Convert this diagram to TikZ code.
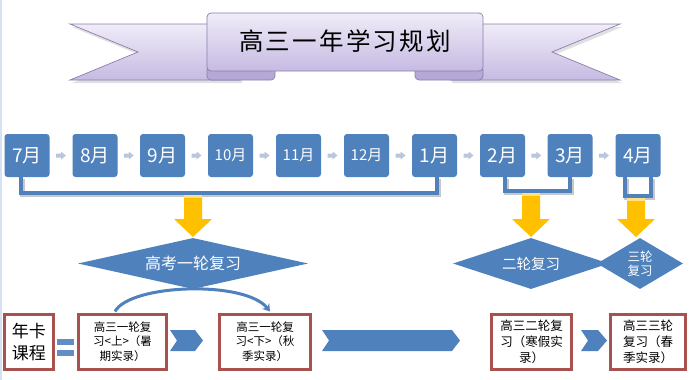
\documentclass[tikz,border=0pt]{standalone}
\usepackage{fontspec}
\setmainfont{Noto Sans CJK SC}
\newfontfamily\titlefont[LetterSpace=9]{Noto Sans CJK SC}
\usetikzlibrary{arrows.meta,shapes.geometric,calc}
\definecolor{mblue}{RGB}{79,129,189}
\definecolor{garr}{RGB}{184,198,222}
\definecolor{gold}{RGB}{255,192,0}
\definecolor{goldlt}{RGB}{255,224,130}
\definecolor{redb}{RGB}{168,82,80}
\definecolor{lavtop}{RGB}{240,236,248}
\definecolor{lavbot}{RGB}{198,186,226}
\definecolor{lavdark}{RGB}{182,168,214}
\definecolor{lavline}{RGB}{140,125,172}
\definecolor{edgeb}{RGB}{214,226,240}
\newcommand\GoldArrow[2]{%
  \fill[gold] (#1-9,#2) -- (#1+9,#2) -- (#1+9,219) -- (#1+19,219) -- (#1,237) -- (#1-19,219) -- (#1-9,219) -- cycle;
  \fill[goldlt] (#1-9,#2) rectangle (#1+9,#2+3);}
\begin{document}
\begin{tikzpicture}[x=1pt,y=-1pt,
  month/.style={fill=mblue, rounded corners=3pt, minimum width=45pt, minimum height=43pt, text=white, inner sep=0pt},
  bigm/.style={font=\fontsize{19}{21}\selectfont},
  smallm/.style={font=\fontsize{15}{17}\selectfont},
  bracketline/.style={draw=mblue, line width=4.5pt},
  diam/.style={diamond, fill=mblue, draw=none, inner sep=0pt, text=white, align=center},
  course/.style={draw=redb, line width=3pt, fill=white, align=center, inner sep=0pt, minimum height=55pt},
  chev/.style={fill=mblue},
  ]
\useasboundingbox (0,0) rectangle (694,380);
\fill[white] (0,0) rectangle (694,380);
\fill[edgeb] (0,0) rectangle (1.5,380);

% title ribbon
\fill[black!12] (72,27) -- (242,27) -- (242,83) -- (72,83) -- (140,55) -- cycle;
\fill[black!12] (622,27) -- (452,27) -- (452,83) -- (622,83) -- (554,55) -- cycle;
\shadedraw[top color=lavtop, bottom color=lavbot, draw=lavline, line width=0.7pt] (70,24) -- (240,24) -- (240,80) -- (70,80) -- (138,52) -- cycle;
\shadedraw[top color=lavtop, bottom color=lavbot, draw=lavline, line width=0.7pt] (620,24) -- (450,24) -- (450,80) -- (620,80) -- (552,52) -- cycle;
\filldraw[fill=lavdark, draw=lavline, line width=0.7pt, rounded corners=4pt] (207,66) rectangle (275,80);
\filldraw[fill=lavdark, draw=lavline, line width=0.7pt, rounded corners=4pt] (415,66) rectangle (483,80);
\shadedraw[top color=lavtop, bottom color=lavbot, draw=lavline, line width=0.7pt, rounded corners=4pt] (207,13) rectangle (483,71);
\node (title) at (345,41.5) {\titlefont\fontsize{24.5}{28}\selectfont 高三一年学习规划};

% months
\node[month,bigm]   (m7)  at (27,155.5)  {7月};
\node[month,bigm]   (m8)  at (95,155.5)  {8月};
\node[month,bigm]   (m9)  at (162.5,155.5) {9月};
\node[month,smallm] (m10) at (230.5,155.5) {10月};
\node[month,smallm] (m11) at (298.5,155.5) {11月};
\node[month,smallm] (m12) at (366.5,155.5) {12月};
\node[month,bigm]   (m1)  at (434.5,155.5) {1月};
\node[month,bigm]   (m2)  at (502.5,155.5) {2月};
\node[month,bigm]   (m3)  at (570,155.5) {3月};
\node[month,bigm]   (m4)  at (638,155.5) {4月};
\foreach \a/\b in {m7/m8,m8/m9,m9/m10,m10/m11,m11/m12,m12/m1,m1/m2,m2/m3,m3/m4}
  \fill[garr] ($(\a.east)!0.5!(\b.west)$) ++(-5,-2) -- ++(5,0) -- ++(0,-2) -- ++(5,4) -- ++(-5,4) -- ++(0,-2) -- ++(-5,0) -- cycle;

% brackets
\begin{scope}[transform canvas={xshift=1.5pt,yshift=-1.5pt}]
\draw[bracketline, draw=black!22] ([xshift=-6pt]m7.south) -- ++(0,16) -| ([xshift=2.5pt]m1.south);
\draw[bracketline, draw=black!22] ([xshift=2.5pt]m2.south) -- ++(0,14) -| (m3.south);
\draw[bracketline, draw=black!22] ([xshift=-13pt]m4.south) -- ++(0,19) -| ([xshift=13pt]m4.south);
\end{scope}
\draw[bracketline] ([xshift=-6pt]m7.south) -- ++(0,16) -| ([xshift=2.5pt]m1.south);
\draw[bracketline] ([xshift=2.5pt]m2.south) -- ++(0,14) -| (m3.south);
\draw[bracketline] ([xshift=-13pt]m4.south) -- ++(0,19) -| ([xshift=13pt]m4.south);

% gold arrows
\GoldArrow{193}{195}
\GoldArrow{531}{193}
\GoldArrow{636}{198}

% diamonds
\node[diam, minimum width=230pt, minimum height=51pt, aspect=4.5, font=\fontsize{16}{18}\selectfont] (d1) at (193,263.5) {高考一轮复习};
\node[diam, minimum width=156pt, minimum height=51pt, aspect=3.06, font=\fontsize{14.5}{16}\selectfont] (d2) at (531,263.5) {二轮复习};
\node[diam, minimum width=86pt, minimum height=51pt, aspect=1.69, font=\fontsize{12.5}{14}\selectfont] (d3) at (640,263.5) {三轮\\复习};

% course boxes
\node[course, minimum width=49pt, font=\fontsize{17}{22}\selectfont] (b1) at (29,342) {年卡\\课程};
\node[course, minimum width=88pt, font=\fontsize{11.5}{14.5}\selectfont] (b2) at (122.5,341.5) {高三一轮复\\习<上>（暑\\期实录）};
\node[course, minimum width=91pt, font=\fontsize{11.5}{14.5}\selectfont] (b3) at (265,341.5) {高三一轮复\\习<下>（秋\\季实录）};
\node[course, minimum width=80pt, font=\fontsize{12.5}{16}\selectfont] (b4) at (531.5,341.5) {高三二轮复\\习（寒假实\\录）};
\node[course, minimum width=75pt, font=\fontsize{12.5}{16}\selectfont] (b5) at (648,341.5) {高三三轮\\复习（春\\季实录）};

% equal sign
\fill[mblue!90!white] (56.5,339) rectangle (74,345);
\fill[mblue!90!white] (56.5,350) rectangle (74,356);

% chevrons
\fill[chev] (170,330) -- (195,330) -- (203,340.5) -- (195,351) -- (170,351) -- (177,340.5) -- cycle;
\fill[chev] (322,330) -- (452,330) -- (460,340.5) -- (452,351) -- (322,351) -- (329,340.5) -- cycle;
\fill[chev] (581,330) -- (598,330) -- (607,340.5) -- (598,351) -- (581,351) -- (588,340.5) -- cycle;

% curved arrow
\draw[mblue, line width=3pt, -{Stealth[length=7pt,width=9pt]}] ([xshift=-7.5pt,yshift=1pt]b2.north) .. controls (130,284) and (245,280) .. ([xshift=5pt,yshift=1pt]b3.north);
\end{tikzpicture}
\end{document}
